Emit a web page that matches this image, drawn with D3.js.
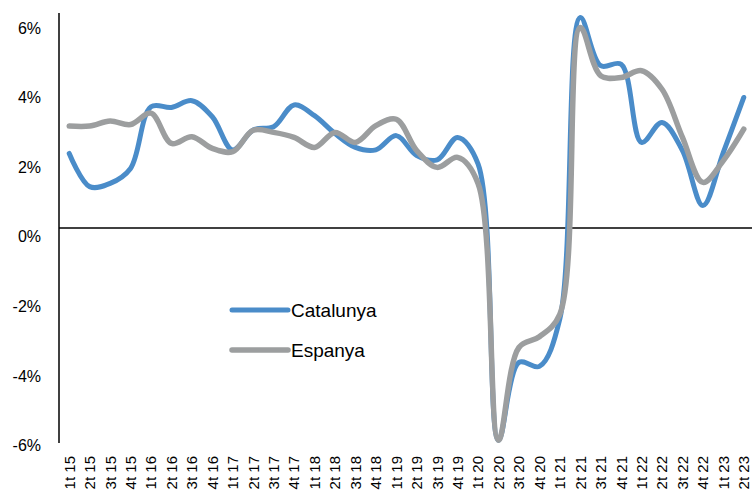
<!DOCTYPE html>
<html>
<head>
<meta charset="utf-8">
<script src="https://cdn.jsdelivr.net/npm/d3@7"></script>
<style>
  body { margin: 0; background: #fff; }
  svg { display: block; font-family: "Liberation Sans", Arial, sans-serif; }
</style>
</head>
<body>
<div id="chart"></div>
<script>
// quarters 1t 15 ... 2t 23
const quarters = ["1t 15","2t 15","3t 15","4t 15","1t 16","2t 16","3t 16","4t 16",
    "1t 17","2t 17","3t 17","4t 17","1t 18","2t 18","3t 18","4t 18",
    "1t 19","2t 19","3t 19","4t 19","1t 20","2t 20","3t 20","4t 20",
    "1t 21","2t 21","3t 21","4t 21","1t 22","2t 22","3t 22","4t 22",
    "1t 23","2t 23"];

const catalunya = [2.09, 1.16, 1.25, 1.67, 3.40, 3.38, 3.57, 3.12,
    2.19, 2.75, 2.84, 3.45, 3.15, 2.65, 2.26, 2.19,
    2.59, 2.03, 1.91, 2.54, 1.80, -5.95, -3.77, -3.88,
    -2.55, 5.90, 4.55, 4.59, 2.40, 2.96, 2.17, 0.63,
    2.12, 3.66];

const espanya = [2.86, 2.86, 3.00, 2.90, 3.22, 2.37, 2.56, 2.23,
    2.14, 2.74, 2.68, 2.54, 2.26, 2.68, 2.40, 2.87,
    3.05, 2.17, 1.70, 1.98, 1.25, -5.95, -3.35, -3.05,
    -2.42, 5.62, 4.27, 4.22, 4.41, 3.89, 2.54, 1.28,
    1.89, 2.77];

const yTicks = [-6, -4, -2, 0, 2, 4, 6];

const series = [
    { name: "Catalunya", values: catalunya, color: "#4a8cc9", width: 5 },
    { name: "Espanya", values: espanya, color: "#9c9e9f", width: 5.5 }
];

const width = 752, height = 497;

const svg = d3.select("#chart").append("svg")
    .attr("width", width)
    .attr("height", height);

const x = d3.scaleBand()
    .domain(quarters)
    .range([59, 754])
    .padding(0);

const y = d3.scaleLinear()
    .domain([-6, 6])
    .range([442, 14]);

// tick labels sit a little lower than the values in the original
const yLabel = d3.scaleLinear()
    .domain([-6, 6])
    .range([445, 27.5]);

// y axis
const yAxis = svg.append("g")
    .attr("class", "y-axis")
    .attr("transform", "translate(59,0)")
    .call(d3.axisLeft(y).tickValues(yTicks).tickSize(0).tickPadding(18)
        .tickFormat(d => d + "%"));

yAxis.select(".domain").remove();
yAxis.selectAll("text")
    .attr("y", d => yLabel(d) - y(d))
    .attr("dy", "0.35em")
    .style("font-size", "16px")
    .attr("fill", "#000");

svg.append("line")
    .attr("x1", 59).attr("x2", 59)
    .attr("y1", 13).attr("y2", 443)
    .attr("stroke", "#000")
    .attr("stroke-width", 1.5);

// zero line
svg.append("line")
    .attr("x1", 59).attr("x2", width)
    .attr("y1", y(0)).attr("y2", y(0))
    .attr("stroke", "#000")
    .attr("stroke-width", 1.5);

// x labels
svg.append("g")
    .attr("class", "x-labels")
    .selectAll("text")
    .data(quarters)
    .enter()
    .append("text")
    .attr("transform", d => "translate(" + (x(d) + x.bandwidth() / 2) + ",456) rotate(-90)")
    .attr("dy", "0.36em")
    .attr("text-anchor", "end")
    .style("font-size", "15px")
    .text(d => d);

// lines
const line = d3.line()
    .x((d, i) => x(quarters[i]) + x.bandwidth() / 2)
    .y(d => y(d))
    .curve(d3.curveCatmullRom.alpha(0.5));

svg.selectAll(".series")
    .data(series)
    .enter()
    .append("path")
    .attr("class", "series")
    .attr("d", d => line(d.values))
    .attr("fill", "none")
    .attr("stroke", d => d.color)
    .attr("stroke-width", d => d.width)
    .attr("stroke-linecap", "round")
    .attr("stroke-linejoin", "round");

// legend
const legend = svg.append("g")
    .attr("class", "legend")
    .selectAll("g")
    .data(series)
    .enter()
    .append("g")
    .attr("transform", (d, i) => "translate(232," + (310 + i * 40) + ")");

legend.append("line")
    .attr("x1", 0).attr("x2", 56)
    .attr("stroke", d => d.color)
    .attr("stroke-width", d => d.width)
    .attr("stroke-linecap", "round");

legend.append("text")
    .attr("x", 59)
    .attr("dy", "0.35em")
    .style("font-size", "19px")
    .text(d => d.name);
</script>
</body>
</html>
